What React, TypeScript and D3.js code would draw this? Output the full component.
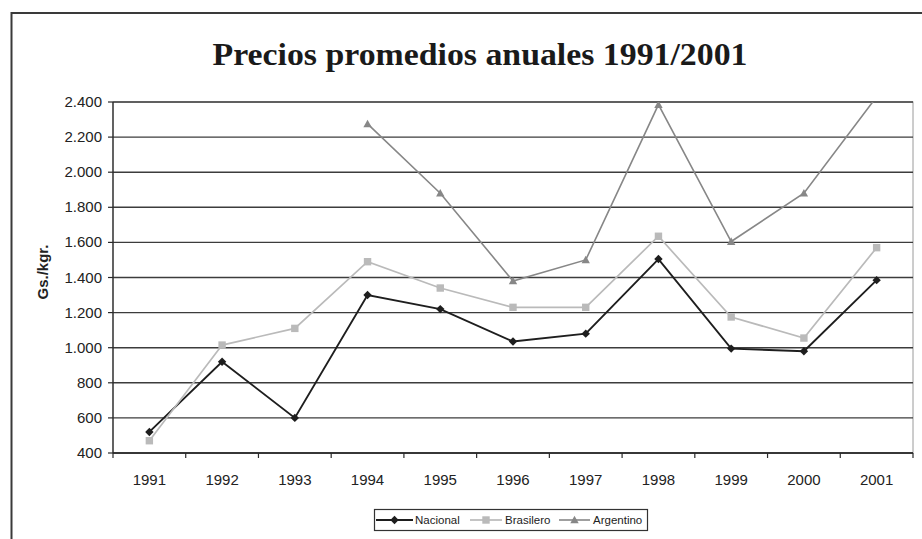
import React from "react";
import * as d3 from "d3";

const years = ["1991", "1992", "1993", "1994", "1995", "1996", "1997", "1998", "1999", "2000", "2001"];
const nacional: (number | null)[] = [520, 920, 600, 1300, 1220, 1035, 1080, 1505, 995, 980, 1385];
const brasilero: (number | null)[] = [470, 1015, 1110, 1490, 1340, 1230, 1230, 1635, 1175, 1055, 1570];
const argentino: (number | null)[] = [null, null, null, 2275, 1880, 1380, 1500, 2385, 1605, 1880, 2430];
const yTicks = [400, 600, 800, 1000, 1200, 1400, 1600, 1800, 2000, 2200, 2400];
const seriesNames = ["Nacional", "Brasilero", "Argentino"];

const W = 922;
const H = 539;
const L = 113, R = 913, T = 102, B = 453;

const fmt = d3.formatLocale({ decimal: ",", thousands: ".", grouping: [3], currency: ["", ""] }).format(",d");

function Marker({ kind, x, y, color }: { kind: string; x: number; y: number; color: string }) {
  if (kind === "diamond") {
    const s = 4.2;
    return <path d={`M${x},${y - s}L${x + s},${y}L${x},${y + s}L${x - s},${y}Z`} fill={color} />;
  }
  if (kind === "square") {
    const s = 3.7;
    return <rect x={x - s} y={y - s} width={2 * s} height={2 * s} fill={color} />;
  }
  const s = 4.2;
  return <path d={`M${x},${y - s}L${x + s},${y + s * 0.8}L${x - s},${y + s * 0.8}Z`} fill={color} />;
}

export default function App() {
  const x = d3.scaleBand<string>().domain(years).range([L, R]).padding(0);
  const y = d3.scaleLinear().domain([400, 2400]).range([B, T]);
  const cx = (yr: string) => (x(yr) as number) + x.bandwidth() / 2;

  const series = [
    { name: seriesNames[0], values: nacional, color: "#1e1e1e", marker: "diamond", w: 1.9 },
    { name: seriesNames[1], values: brasilero, color: "#bababa", marker: "square", w: 1.7 },
    { name: seriesNames[2], values: argentino, color: "#878787", marker: "triangle", w: 1.6 },
  ];

  const line = d3
    .line<number | null>()
    .defined((d) => d !== null)
    .x((_, i) => cx(years[i]))
    .y((d) => y(d as number));

  const font = "'Liberation Sans', Arial, sans-serif";

  const legendItems = [
    { lx1: 376, lx2: 413, tx: 415 },
    { lx1: 470, lx2: 502, tx: 505 },
    { lx1: 559, lx2: 590, tx: 593 },
  ];

  return (
    <svg width={W} height={H} style={{ position: "absolute", left: 0, top: 0, background: "#fff" }}>
      <defs>
        <clipPath id="plotclip">
          <rect x={L} y={T} width={R - L} height={B - T} />
        </clipPath>
      </defs>
      <rect x={0} y={0} width={W} height={H} fill="#fff" />
      {/* outer frame */}
      <rect x={11.5} y={13} width={W + 20} height={H + 20} fill="none" stroke="#3a3a3a" strokeWidth={2} />

      {/* title */}
      <text
        x={480}
        y={65}
        textAnchor="middle"
        fontFamily="'Liberation Serif', 'Times New Roman', serif"
        fontWeight="bold"
        fontSize={31}
        fill="#1a1a1a"
        textLength={535}
        lengthAdjust="spacingAndGlyphs"
      >
        Precios promedios anuales 1991/2001
      </text>

      {/* plot border */}
      <rect x={L} y={T} width={R - L} height={B - T} fill="none" stroke="#9a9a9a" strokeWidth={1} />

      {/* gridlines */}
      {yTicks.map((t) => (
        <line key={"g" + t} x1={L} x2={R} y1={y(t)} y2={y(t)} stroke="#3c3c3c" strokeWidth={1.4} />
      ))}

      {/* y axis */}
      <line x1={L} x2={L} y1={T} y2={B} stroke="#2a2a2a" strokeWidth={1.3} />
      {yTicks.map((t) => (
        <g key={"yt" + t}>
          <line x1={L - 5} x2={L} y1={y(t)} y2={y(t)} stroke="#2a2a2a" strokeWidth={1.2} />
          <text x={102} y={y(t) + 5} textAnchor="end" fontFamily={font} fontSize={15} fill="#222">
            {fmt(t)}
          </text>
        </g>
      ))}
      <text
        transform={`translate(48,272) rotate(-90)`}
        textAnchor="middle"
        fontFamily={font}
        fontWeight="bold"
        fontSize={15}
        fill="#222"
      >
        Gs./kgr.
      </text>

      {/* x axis */}
      <line x1={L} x2={R} y1={B} y2={B} stroke="#2a2a2a" strokeWidth={1.5} />
      {years.map((yr) => (
        <line key={"xt" + yr} x1={x(yr) as number} x2={x(yr) as number} y1={B} y2={B + 5} stroke="#2a2a2a" strokeWidth={1.2} />
      ))}
      <line x1={R} x2={R} y1={B} y2={B + 5} stroke="#2a2a2a" strokeWidth={1.2} />
      {years.map((yr) => (
        <text key={"xl" + yr} x={cx(yr)} y={485} textAnchor="middle" fontFamily={font} fontSize={15} fill="#222">
          {yr}
        </text>
      ))}

      {/* series */}
      <g clipPath="url(#plotclip)">
        {series.map((s) => (
          <path key={s.name} d={line(s.values) || ""} fill="none" stroke={s.color} strokeWidth={s.w} />
        ))}
        {series.map((s) =>
          s.values.map((v, i) =>
            v === null ? null : (
              <Marker key={s.name + i} kind={s.marker} x={cx(years[i])} y={y(v)} color={s.color} />
            )
          )
        )}
      </g>

      {/* legend */}
      <rect x={374.5} y={509.5} width={273} height={21} fill="#fff" stroke="#333" strokeWidth={1.2} />
      {series.map((s, i) => {
        const it = legendItems[i];
        const my = 520;
        return (
          <g key={"lg" + s.name}>
            <line x1={it.lx1} x2={it.lx2} y1={my} y2={my} stroke={s.color} strokeWidth={s.w} />
            <Marker kind={s.marker} x={(it.lx1 + it.lx2) / 2} y={my} color={s.color} />
            <text x={it.tx} y={my + 4} fontFamily={font} fontSize={11.5} fill="#222">
              {s.name}
            </text>
          </g>
        );
      })}
    </svg>
  );
}
